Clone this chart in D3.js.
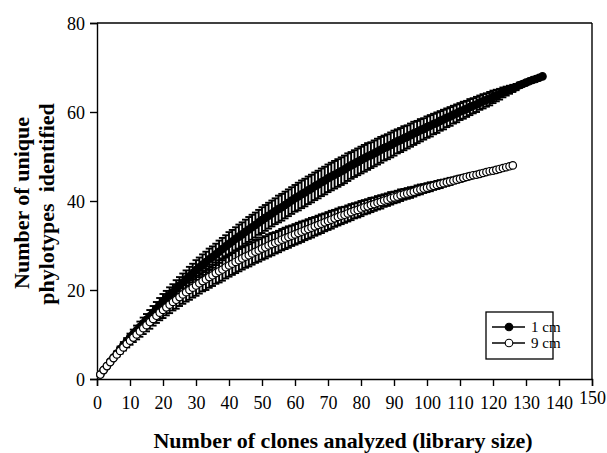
<!DOCTYPE html>
<html>
<head>
<meta charset="utf-8">
<script src="https://cdn.jsdelivr.net/npm/d3@7"></script>
<style>
  body { margin: 0; background: #fff; }
  svg text { font-family: "Liberation Serif", "Times New Roman", serif; fill: #000; }
  .axis text { font-size: 18px; }
  .axis-title { font-size: 22px; font-weight: bold; }
</style>
</head>
<body>
<div id="chart"></div>
<script>

// library size (clones) for each series
var clones1cm = d3.range(1, 136);
var clones9cm = d3.range(1, 127);

// mean number of unique phylotypes, 1 cm
var mean1cm = [
  1.0, 2.0, 2.9, 3.9, 4.8, 5.7, 6.7, 7.6, 8.4, 9.3,
  10.1, 10.9, 11.7, 12.5, 13.3, 14.1, 14.9, 15.8, 16.6, 17.4,
  18.1, 18.8, 19.5, 20.3, 21.0, 21.7, 22.4, 23.1, 23.8, 24.5,
  25.1, 25.7, 26.3, 26.9, 27.4, 28.0, 28.6, 29.2, 29.8, 30.4,
  30.9, 31.5, 32.0, 32.5, 33.1, 33.6, 34.1, 34.6, 35.2, 35.7,
  36.2, 36.7, 37.2, 37.7, 38.2, 38.6, 39.1, 39.6, 40.1, 40.6,
  41.0, 41.5, 41.9, 42.4, 42.8, 43.3, 43.7, 44.2, 44.6, 45.1,
  45.5, 45.9, 46.3, 46.7, 47.1, 47.6, 48.0, 48.4, 48.8, 49.2,
  49.6, 50.0, 50.3, 50.7, 51.1, 51.5, 51.9, 52.2, 52.6, 53.0,
  53.4, 53.7, 54.1, 54.4, 54.8, 55.2, 55.5, 55.9, 56.2, 56.6,
  56.9, 57.3, 57.6, 58.0, 58.3, 58.7, 59.0, 59.4, 59.7, 60.1,
  60.4, 60.7, 61.1, 61.4, 61.7, 62.1, 62.4, 62.7, 63.0, 63.4,
  63.7, 64.0, 64.4, 64.7, 65.0, 65.3, 65.6, 66.0, 66.3, 66.6,
  66.9, 67.2, 67.4, 67.7, 68.0
];

// standard deviation, 1 cm
var sd1cm = [
  0.0, 0.1, 0.2, 0.3, 0.4, 0.5, 0.6, 0.7, 0.8, 0.9,
  1.0, 1.1, 1.2, 1.3, 1.3, 1.4, 1.5, 1.5, 1.6, 1.7,
  1.7, 1.8, 1.8, 1.9, 1.9, 2.0, 2.0, 2.1, 2.1, 2.2,
  2.2, 2.3, 2.3, 2.4, 2.4, 2.4, 2.5, 2.5, 2.5, 2.6,
  2.6, 2.6, 2.7, 2.7, 2.7, 2.8, 2.8, 2.8, 2.8, 2.9,
  2.9, 2.9, 2.9, 2.9, 3.0, 3.0, 3.0, 3.0, 3.0, 3.0,
  3.1, 3.1, 3.1, 3.1, 3.1, 3.1, 3.1, 3.1, 3.1, 3.1,
  3.1, 3.1, 3.1, 3.1, 3.1, 3.1, 3.0, 3.0, 3.0, 3.0,
  3.0, 3.0, 2.9, 2.9, 2.9, 2.9, 2.8, 2.8, 2.8, 2.8,
  2.7, 2.7, 2.7, 2.6, 2.6, 2.6, 2.5, 2.5, 2.4, 2.4,
  2.4, 2.3, 2.3, 2.2, 2.2, 2.1, 2.1, 2.0, 2.0, 1.9,
  1.9, 1.8, 1.8, 1.7, 1.7, 1.6, 1.6, 1.5, 1.5, 1.4,
  1.3, 1.2, 1.1, 1.0, 0.9, 0.8, 0.7, 0.6, 0.5, 0.4,
  0.3, 0.2, 0.2, 0.1, 0.0
];

// mean number of unique phylotypes, 9 cm
var mean9cm = [
  1.0, 2.0, 2.9, 3.8, 4.7, 5.5, 6.3, 7.1, 7.9, 8.6,
  9.3, 10.0, 10.7, 11.4, 12.1, 12.8, 13.5, 14.2, 14.9, 15.5,
  16.1, 16.7, 17.3, 17.8, 18.4, 19.0, 19.5, 20.0, 20.5, 21.0,
  21.5, 22.0, 22.4, 22.9, 23.3, 23.8, 24.2, 24.6, 25.1, 25.5,
  25.9, 26.3, 26.7, 27.1, 27.5, 27.8, 28.2, 28.6, 28.9, 29.3,
  29.6, 30.0, 30.3, 30.6, 30.9, 31.3, 31.6, 31.9, 32.2, 32.5,
  32.8, 33.1, 33.4, 33.7, 34.0, 34.3, 34.6, 34.9, 35.2, 35.5,
  35.8, 36.1, 36.4, 36.7, 36.9, 37.2, 37.5, 37.8, 38.0, 38.3,
  38.6, 38.8, 39.1, 39.3, 39.6, 39.8, 40.1, 40.3, 40.6, 40.8,
  41.0, 41.3, 41.5, 41.7, 41.9, 42.1, 42.4, 42.6, 42.8, 43.0,
  43.2, 43.4, 43.6, 43.8, 44.0, 44.2, 44.4, 44.6, 44.8, 45.0,
  45.2, 45.4, 45.6, 45.8, 45.9, 46.1, 46.3, 46.5, 46.7, 46.8,
  47.0, 47.2, 47.4, 47.6, 47.8, 48.0
];

// standard deviation, 9 cm
var sd9cm = [
  0.0, 0.1, 0.2, 0.3, 0.4, 0.5, 0.6, 0.7, 0.8, 0.9,
  1.0, 1.1, 1.2, 1.3, 1.4, 1.5, 1.5, 1.6, 1.7, 1.8,
  1.8, 1.9, 1.9, 2.0, 2.0, 2.1, 2.1, 2.2, 2.2, 2.3,
  2.3, 2.3, 2.4, 2.4, 2.4, 2.4, 2.5, 2.5, 2.5, 2.5,
  2.5, 2.5, 2.5, 2.5, 2.5, 2.5, 2.5, 2.5, 2.5, 2.5,
  2.5, 2.5, 2.5, 2.4, 2.4, 2.4, 2.4, 2.4, 2.3, 2.3,
  2.3, 2.3, 2.2, 2.2, 2.2, 2.1, 2.1, 2.1, 2.0, 2.0,
  2.0, 1.9, 1.9, 1.9, 1.8, 1.8, 1.8, 1.7, 1.7, 1.7,
  1.6, 1.6, 1.6, 1.5, 1.5, 1.5, 1.4, 1.4, 1.4, 1.3,
  1.3, 1.3, 1.2, 1.2, 1.2, 1.1, 1.1, 1.1, 1.0, 1.0,
  1.0, 0.9, 0.9, 0.9, 0.8, 0.8, 0.8, 0.7, 0.7, 0.7,
  0.6, 0.6, 0.6, 0.5, 0.5, 0.5, 0.4, 0.4, 0.4, 0.3,
  0.3, 0.2, 0.2, 0.1, 0.1, 0.0
];

var seriesNames = ["1 cm", "9 cm"];
var xTicks = [0, 10, 20, 30, 40, 50, 60, 70, 80, 90, 100, 110, 120, 130, 140, 150];
var yTicks = [0, 20, 40, 60, 80];

var margin = { top: 23, right: 15, bottom: 74, left: 97 };
var width = 607 - margin.left - margin.right,
    height = 453 - margin.top - margin.bottom;

var svg = d3.select("#chart").append("svg")
    .attr("width", 607)
    .attr("height", 453);

var g = svg.append("g")
    .attr("transform", "translate(" + margin.left + "," + margin.top + ")");

// Scales
var x = d3.scaleLinear().domain([0, 150]).range([0, width]);
var y = d3.scaleLinear().domain([0, 80]).range([height, 0]);

// Frame (top and right)
g.append("line").attr("x1", 0).attr("x2", width).attr("y1", 0).attr("y2", 0)
    .attr("stroke", "#000").attr("stroke-width", 1.4);
g.append("line").attr("x1", width).attr("x2", width).attr("y1", 0).attr("y2", height)
    .attr("stroke", "#000").attr("stroke-width", 1.4);

// Axes
var xAxis = d3.axisBottom(x).tickValues(xTicks).tickSize(7).tickPadding(10);
var yAxis = d3.axisLeft(y).tickValues(yTicks).tickSize(7).tickPadding(5);

var gx = g.append("g")
    .attr("class", "x-axis axis")
    .attr("transform", "translate(0," + height + ")")
    .call(xAxis);
var gy = g.append("g")
    .attr("class", "y-axis axis")
    .call(yAxis);

[gx, gy].forEach(function(a) {
    a.select(".domain").attr("stroke-width", 1.4);
    a.selectAll(".tick line").attr("stroke-width", 1.4);
    a.attr("font-family", null).attr("font-size", null);
});
gy.selectAll(".tick text").attr("dy", "0.35em");
// last x label sits slightly higher in the original
gx.selectAll(".tick text").filter(function(d) { return d === 150; }).attr("dy", "0.45em");

// Axis titles
svg.append("text")
    .attr("class", "axis-title")
    .attr("x", 343)
    .attr("y", 448)
    .style("text-anchor", "middle")
    .text("Number of clones analyzed (library size)");

svg.append("text")
    .attr("class", "axis-title")
    .attr("transform", "translate(29,203) rotate(-90)")
    .style("text-anchor", "middle")
    .text("Number of unique");

svg.append("text")
    .attr("class", "axis-title")
    .attr("transform", "translate(54,204) rotate(-90)")
    .style("text-anchor", "middle")
    .style("white-space", "pre")
    .attr("xml:space", "preserve")
    .text("phylotypes  identified");

// Series
var series = [
    { name: seriesNames[0], n: clones1cm, mean: mean1cm, sd: sd1cm, fill: "#000" },
    { name: seriesNames[1], n: clones9cm, mean: mean9cm, sd: sd9cm, fill: "#fff" }
];

var cap = 3.5, r = 3.7;

series.forEach(function(s) {
    var pts = s.n.map(function(n, i) { return { n: n, m: s.mean[i], e: s.sd[i] }; });
    var layer = g.append("g").attr("class", "series");

    var bars = layer.selectAll(".err").data(pts).enter().append("g").attr("class", "err")
        .attr("stroke", "#000").attr("stroke-width", 1.9);
    bars.append("line")
        .attr("x1", function(d) { return x(d.n); })
        .attr("x2", function(d) { return x(d.n); })
        .attr("y1", function(d) { return y(d.m - d.e); })
        .attr("y2", function(d) { return y(d.m + d.e); });
    bars.append("line")
        .attr("x1", function(d) { return x(d.n) - cap; })
        .attr("x2", function(d) { return x(d.n) + cap; })
        .attr("y1", function(d) { return y(d.m + d.e); })
        .attr("y2", function(d) { return y(d.m + d.e); });
    bars.append("line")
        .attr("x1", function(d) { return x(d.n) - cap; })
        .attr("x2", function(d) { return x(d.n) + cap; })
        .attr("y1", function(d) { return y(d.m - d.e); })
        .attr("y2", function(d) { return y(d.m - d.e); });

    layer.selectAll(".dot").data(pts).enter().append("circle")
        .attr("class", "dot")
        .attr("cx", function(d) { return x(d.n); })
        .attr("cy", function(d) { return y(d.m); })
        .attr("r", r)
        .attr("fill", s.fill)
        .attr("stroke", "#000")
        .attr("stroke-width", 1.2);
});

// Legend
var legend = svg.append("g").attr("transform", "translate(486,312)");
legend.append("rect")
    .attr("width", 67).attr("height", 47)
    .attr("fill", "#fff").attr("stroke", "#000").attr("stroke-width", 1.3);

series.forEach(function(s, i) {
    var ly = 15 + i * 16;
    legend.append("line")
        .attr("x1", 6).attr("x2", 39).attr("y1", ly).attr("y2", ly)
        .attr("stroke", "#000").attr("stroke-width", 1.3);
    legend.append("circle")
        .attr("cx", 23).attr("cy", ly).attr("r", 3.8)
        .attr("fill", s.fill).attr("stroke", "#000").attr("stroke-width", 1.1);
    legend.append("text")
        .attr("x", 45).attr("y", ly)
        .attr("dy", "0.35em")
        .style("font-size", "15px")
        .text(s.name);
});

</script>
</body>
</html>
